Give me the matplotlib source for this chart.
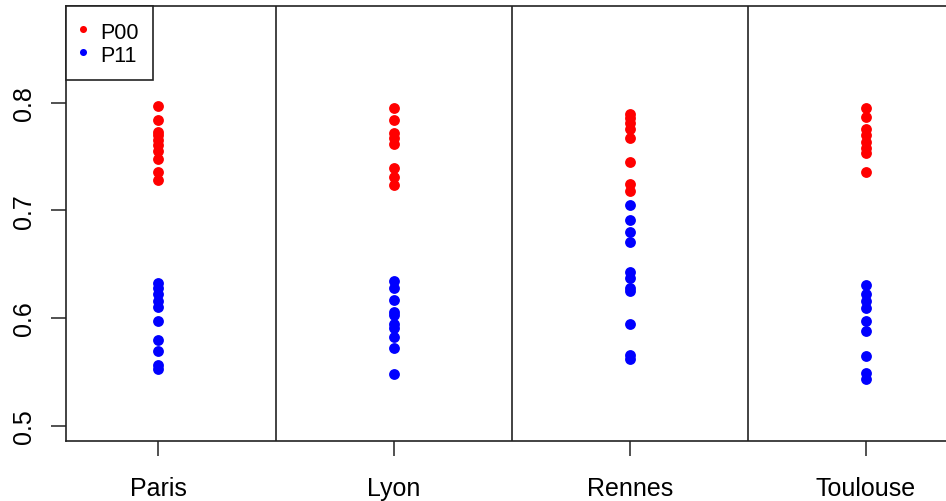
import matplotlib
matplotlib.use('Agg')
import matplotlib.pyplot as plt

# transition probabilities per city
cities = ['Paris', 'Lyon', 'Rennes', 'Toulouse']

p00_paris = [0.797, 0.784, 0.773, 0.770, 0.765, 0.761, 0.755, 0.748, 0.736, 0.728]
p00_lyon = [0.795, 0.784, 0.772, 0.767, 0.762, 0.739, 0.731, 0.724]
p00_rennes = [0.790, 0.786, 0.781, 0.776, 0.767, 0.745, 0.725, 0.718]
p00_toulouse = [0.795, 0.787, 0.776, 0.770, 0.764, 0.758, 0.753, 0.736]

p11_paris = [0.633, 0.628, 0.622, 0.616, 0.610, 0.597, 0.580, 0.569, 0.556, 0.553]
p11_lyon = [0.634, 0.628, 0.617, 0.606, 0.603, 0.594, 0.591, 0.582, 0.572, 0.548]
p11_rennes = [0.705, 0.691, 0.680, 0.671, 0.643, 0.637, 0.628, 0.625, 0.594, 0.566, 0.562]
p11_toulouse = [0.631, 0.622, 0.616, 0.609, 0.597, 0.588, 0.565, 0.549, 0.543]

p00 = [p00_paris, p00_lyon, p00_rennes, p00_toulouse]
p11 = [p11_paris, p11_lyon, p11_rennes, p11_toulouse]

plt.rcParams['font.family'] = ['Liberation Sans', 'DejaVu Sans']

W, H = 946, 502
fig = plt.figure(figsize=(W / 100, H / 100), dpi=100)
left, right, top, bottom = 66, 958, 7, 441.7
ax = fig.add_axes([left / W, 1 - bottom / H, (right - left) / W, (bottom - top) / H])

for i, (a, b) in enumerate(zip(p00, p11), start=1):
    ax.plot([i] * len(a), a, 'o', color='red', markersize=7.8, markeredgewidth=0,
            label='P00' if i == 1 else None)
    ax.plot([i] * len(b), b, 'o', color='blue', markersize=7.8, markeredgewidth=0,
            label='P11' if i == 1 else None)

# separators between cities
for xs in [1.5, 2.5, 3.5]:
    ax.axvline(xs, color='#222222', lw=1.2)

ax.set_xlim(0.61, 4.39)
ax.set_ylim(0.486, 0.890)
ax.set_xticks(range(1, len(cities) + 1))
ax.set_xticklabels(cities, fontsize=18)
ax.set_yticks([0.5, 0.6, 0.7, 0.8])
ax.set_yticklabels(['0.5', '0.6', '0.7', '0.8'], fontsize=18, rotation=90, va='center')
ax.tick_params(axis='both', direction='out', length=10.5, width=1.2, color='#333333')
ax.tick_params(axis='x', pad=15)
ax.tick_params(axis='y', pad=11)
for s in ax.spines.values():
    s.set_color('#222222')
    s.set_linewidth(1.2)

leg = ax.legend(loc='upper left', borderaxespad=0, fontsize=15.5, frameon=True,
                fancybox=False, edgecolor='#222222', framealpha=1,
                handlelength=0.28, handleheight=1.1, handletextpad=0.64,
                borderpad=0.66, labelspacing=0.02, markerscale=0.65)
leg.get_frame().set_linewidth(1.2)

fig.savefig('out.png', dpi=100)
